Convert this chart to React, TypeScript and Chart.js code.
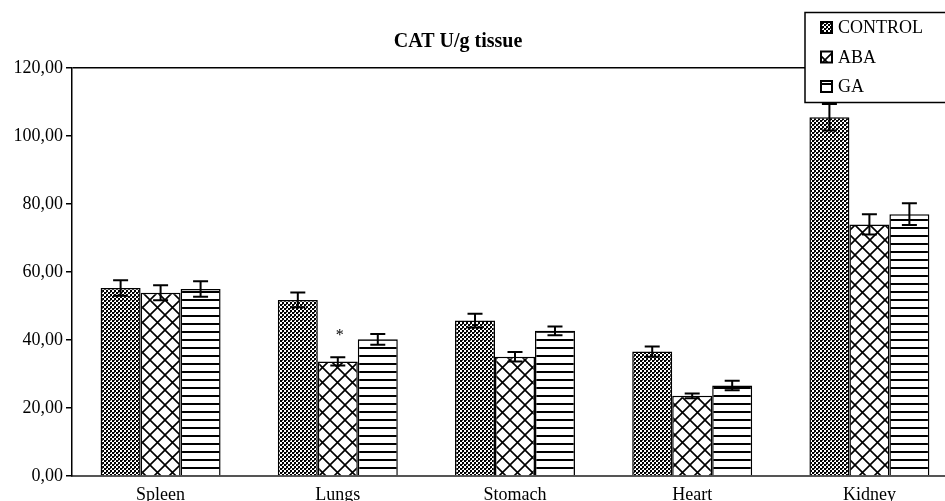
import React, { useEffect, useRef } from 'react';
import { Chart, registerables } from 'chart.js';

Chart.register(...registerables);

// Organs measured
const categories = ['Spleen', 'Lungs', 'Stomach', 'Heart', 'Kidney'];
const seriesNames = ['CONTROL', 'ABA', 'GA'];

// CAT activity (U/g tissue), mean values
const controlValues = [55.3, 51.8, 45.7, 36.6, 105.5];
const abaValues = [53.9, 33.7, 35.1, 23.6, 74.0];
const gaValues = [55.0, 40.2, 42.7, 26.6, 77.0];

// Standard errors
const controlErrors = [2.3, 2.2, 2.0, 1.5, 3.9];
const abaErrors = [2.2, 1.2, 1.4, 0.7, 3.0];
const gaErrors = [2.3, 1.6, 1.3, 1.4, 3.2];

// Significance marks shown above the ABA bars
const abaMarks = ['', '*', '', '', ''];

const yMin = 0;
const yMax = 120;
const yStep = 20;

const titleText = 'CAT U/g tissue';
const FONT = '"Liberation Serif", "Times New Roman", serif';

type PatternKind = 'checker' | 'cross' | 'lines';

function makePattern(ctx: CanvasRenderingContext2D, kind: PatternKind): CanvasPattern | string {
  const tile = document.createElement('canvas');
  const size = kind === 'checker' ? 4 : kind === 'cross' ? 15 : 8;
  tile.width = size;
  tile.height = size;
  const t = tile.getContext('2d');
  if (!t) return '#888';
  t.fillStyle = '#fff';
  t.fillRect(0, 0, size, size);
  t.fillStyle = '#000';
  t.strokeStyle = '#000';
  if (kind === 'checker') {
    t.fillRect(0, 0, 2, 2);
    t.fillRect(2, 2, 2, 2);
    t.fillStyle = '#444';
    t.fillRect(2, 0, 1, 1);
  } else if (kind === 'cross') {
    t.lineWidth = 1.6;
    t.beginPath();
    t.moveTo(-2, -2);
    t.lineTo(size + 2, size + 2);
    t.moveTo(size + 2, -2);
    t.lineTo(-2, size + 2);
    t.stroke();
  } else {
    t.fillRect(0, 3, size, 2);
  }
  return ctx.createPattern(tile, 'repeat') || '#888';
}

const errorSets = [controlErrors, abaErrors, gaErrors];
const markSets = [null, abaMarks, null];

const errorBarPlugin = {
  id: 'errorBars',
  afterDatasetsDraw(chart: any) {
    const ctx: CanvasRenderingContext2D = chart.ctx;
    const yScale = chart.scales.y;
    chart.data.datasets.forEach((ds: any, i: number) => {
      const meta = chart.getDatasetMeta(i);
      const errs = errorSets[i];
      const marks = markSets[i];
      meta.data.forEach((bar: any, j: number) => {
        const v = ds.data[j] as number;
        const e = errs[j];
        const x = bar.x;
        const yTop = yScale.getPixelForValue(v + e);
        const yBot = yScale.getPixelForValue(v - e);
        const cap = 7.5;
        ctx.save();
        ctx.strokeStyle = '#000';
        ctx.lineWidth = 2;
        ctx.beginPath();
        ctx.moveTo(x, yTop);
        ctx.lineTo(x, yBot);
        ctx.moveTo(x - cap, yTop);
        ctx.lineTo(x + cap, yTop);
        ctx.moveTo(x - cap, yBot);
        ctx.lineTo(x + cap, yBot);
        ctx.stroke();
        if (marks && marks[j]) {
          ctx.fillStyle = '#000';
          ctx.font = `16px ${FONT}`;
          ctx.textAlign = 'center';
          ctx.textBaseline = 'middle';
          ctx.fillText(marks[j], x + 2, yTop - 22);
        }
        ctx.restore();
      });
    });
  },
};

const titleAndLegendPlugin = {
  id: 'titleAndLegend',
  afterDraw(chart: any) {
    const ctx: CanvasRenderingContext2D = chart.ctx;
    const area = chart.chartArea;
    ctx.save();

    // Title
    ctx.fillStyle = '#000';
    ctx.font = `bold 20px ${FONT}`;
    ctx.textAlign = 'center';
    ctx.textBaseline = 'middle';
    ctx.fillText(titleText, area.left + 386, 42);

    // Legend box overlapping the top-right corner of the plot
    const bx = area.right - 153;
    const by = 12.5;
    ctx.fillStyle = '#fff';
    ctx.fillRect(bx, by, 200, 90);
    ctx.strokeStyle = '#000';
    ctx.lineWidth = 1.5;
    ctx.strokeRect(bx, by, 200, 90);

    chart.data.datasets.forEach((ds: any, i: number) => {
      const cy = by + 15 + i * 29.5;
      const mx = bx + 16;
      const ms = 11;
      ctx.fillStyle = ds.backgroundColor;
      ctx.fillRect(mx, cy - ms / 2, ms, ms);
      ctx.strokeStyle = '#000';
      ctx.lineWidth = 2;
      ctx.strokeRect(mx, cy - ms / 2, ms, ms);
      ctx.fillStyle = '#000';
      ctx.font = `18px ${FONT}`;
      ctx.textAlign = 'left';
      ctx.textBaseline = 'middle';
      ctx.fillText(seriesNames[i], bx + 33, cy + 1);
    });
    ctx.restore();
  },
};

export default function App() {
  const canvasRef = useRef<HTMLCanvasElement | null>(null);

  useEffect(() => {
    const canvas = canvasRef.current;
    if (!canvas) return;
    const ctx = canvas.getContext('2d');
    if (!ctx) return;

    Chart.defaults.font.family = FONT;
    Chart.defaults.color = '#000';

    const fills = [makePattern(ctx, 'checker'), makePattern(ctx, 'cross'), makePattern(ctx, 'lines')];
    const values = [controlValues, abaValues, gaValues];

    const chart = new Chart(ctx, {
      type: 'bar',
      data: {
        labels: categories,
        datasets: seriesNames.map((name, i) => ({
          label: name,
          data: values[i],
          backgroundColor: fills[i] as any,
          borderColor: '#000',
          borderWidth: 1.5,
          borderSkipped: 'bottom',
          categoryPercentage: 0.677,
          barPercentage: 1.0,
        })),
      },
      options: {
        responsive: false,
        animation: false,
        devicePixelRatio: 1,
        layout: { padding: { top: 68, left: 0, right: 2, bottom: 9 } },
        plugins: {
          legend: { display: false },
          title: { display: false },
          tooltip: { enabled: false },
        },
        scales: {
          x: {
            grid: { display: true, drawOnChartArea: false, drawTicks: false },
            border: { display: true, color: '#555', width: 2 },
            ticks: {
              padding: 8,
              maxRotation: 0,
              font: { size: 18, family: FONT },
              color: '#000',
            },
            afterFit: (scale: any) => {
              scale.height = 25;
            },
          },
          y: {
            min: yMin,
            max: yMax,
            grid: {
              drawOnChartArea: true,
              drawTicks: true,
              tickLength: 6,
              tickColor: '#000',
              tickWidth: 1.5,
              lineWidth: 1.5,
              color: (c: any) => (c.tick && c.tick.value === yMax ? '#000' : 'rgba(0,0,0,0)'),
            },
            border: { display: true, color: '#000', width: 1.5 },
            ticks: {
              stepSize: yStep,
              padding: 3,
              font: { size: 18, family: FONT },
              color: '#000',
              callback: (v: any) => Number(v).toFixed(2).replace('.', ','),
            },
            afterFit: (scale: any) => {
              scale.width = 72;
            },
          },
        },
      },
      plugins: [errorBarPlugin, titleAndLegendPlugin],
    });

    return () => {
      chart.destroy();
    };
  }, []);

  return (
    <div
      style={{
        position: 'fixed',
        left: 0,
        top: 0,
        width: 945,
        height: 501,
        overflow: 'hidden',
        background: '#fff',
      }}
    >
      <canvas
        ref={canvasRef}
        width={960}
        height={510}
        style={{ display: 'block', width: 960, height: 510 }}
      />
    </div>
  );
}
